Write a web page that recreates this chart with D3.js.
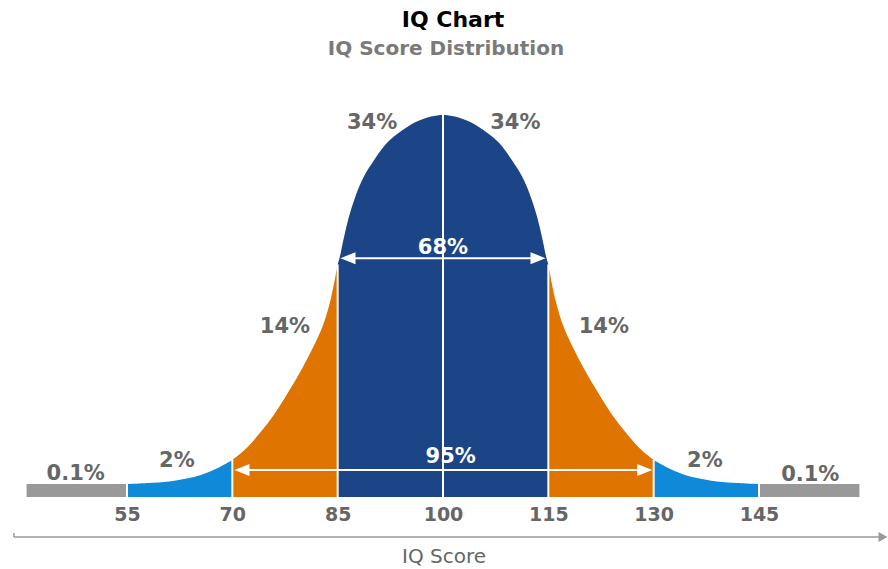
<!DOCTYPE html>
<html>
<head>
<meta charset="utf-8">
<script src="https://cdn.jsdelivr.net/npm/d3@7"></script>
<style>
  body { margin: 0; background: #fff; }
  text { font-family: "DejaVu Sans", Verdana, sans-serif; }
</style>
</head>
<body>
<div id="chart"></div>
<script>
// curve: IQ score -> height relative to the peak
const scores = [55, 58, 61, 64, 66, 68, 70, 72, 74, 76, 78, 80, 82, 83, 84, 85,
  85.3, 85.9, 86.6, 87.5, 88.7, 90.2, 92, 94.2, 96.7, 100, 103.3, 105.8, 108, 109.8, 111.3, 112.5, 113.4, 114.1, 114.7,
  115, 116, 117, 118, 120, 122, 124, 126, 128, 130, 132, 134, 136, 139, 142, 145];
const heights = [0, 0.003, 0.007, 0.017, 0.028, 0.044, 0.065, 0.097, 0.14, 0.19, 0.25, 0.315, 0.39, 0.435, 0.5, 0.595,
  0.615, 0.669, 0.724, 0.778, 0.832, 0.878, 0.924, 0.959, 0.986, 1, 0.986, 0.959, 0.924, 0.878, 0.832, 0.778, 0.724, 0.669, 0.615,
  0.595, 0.5, 0.435, 0.39, 0.315, 0.25, 0.19, 0.14, 0.097, 0.065, 0.044, 0.028, 0.017, 0.007, 0.003, 0];

const bands = [55, 70, 85, 115, 130, 145];
const bandColors = ["#0f8ad8", "#e07400", "#1b4586", "#e07400", "#0f8ad8"];
const tailRanges = [[40.7, 55], [145, 159.3]];
const dividers = [70, 85, 100, 115, 130];
const ticks = [55, 70, 85, 100, 115, 130, 145];

const pctText = ["0.1%", "2%", "14%", "34%", "34%", "14%", "2%", "0.1%"];
const pctX = [47.7, 62.1, 77.5, 89.9, 110.3, 122.9, 137.3, 152.3];
const pctY = [0.011, 0.046, 0.409, 0.962, 0.962, 0.409, 0.046, 0.008];

const spanText = ["68%", "95%"];
const spanFrom = [85.4, 70.3];
const spanTo = [114.6, 129.8];
const spanArrowY = [0.612, 0.038];
const spanLabelX = [100, 101.1];
const spanLabelY = [0.622, 0.057];

const width = 888, height = 569;
const barH = 13;

const svg = d3.select("#chart").append("svg")
  .attr("width", width)
  .attr("height", height);

const x = d3.scaleLinear().domain([55, 145]).range([127, 759]);
const y = d3.scaleLinear().domain([0, 1]).range([484, 115]);
const bottom = y(0) + barH;

const points = scores.map((s, i) => ({ s, h: heights[i] }));
const hAt = s => heights[scores.indexOf(s)];

// title
svg.append("text").attr("x", 453).attr("y", 27).attr("text-anchor", "middle")
  .style("font-size", "22px").style("font-weight", "bold").style("fill", "#000")
  .text("IQ Chart");
svg.append("text").attr("x", 446).attr("y", 55).attr("text-anchor", "middle")
  .style("font-size", "20px").style("font-weight", "bold").style("fill", "#7a7a7a")
  .text("IQ Score Distribution");

// gray tails
svg.selectAll(".tail").data(tailRanges).enter().append("rect")
  .attr("class", "tail")
  .attr("x", d => x(d[0]))
  .attr("width", d => x(d[1]) - x(d[0]))
  .attr("y", y(0))
  .attr("height", barH)
  .style("fill", "#999");

// bell curve, drawn band by band
const area = d3.area()
  .x(d => x(d.s))
  .y0(bottom)
  .y1(d => y(d.h))
  .curve(d3.curveCatmullRom.alpha(0.5));

bandColors.forEach((c, i) => {
  const seg = points.filter(p => p.s >= bands[i] && p.s <= bands[i + 1]);
  svg.append("path")
    .datum(seg)
    .attr("d", area)
    .style("fill", c);
});

// white gaps between gray and blue
svg.selectAll(".gap").data([55, 145]).enter().append("line")
  .attr("x1", d => x(d)).attr("x2", d => x(d))
  .attr("y1", y(0) - 1).attr("y2", bottom)
  .style("stroke", "#fff").style("stroke-width", 2);

// white dividers
svg.selectAll(".divider").data(dividers).enter().append("line")
  .attr("x1", d => x(d)).attr("x2", d => x(d))
  .attr("y1", d => y(hAt(d)))
  .attr("y2", bottom)
  .style("stroke", "#fff").style("stroke-width", 2);

// span arrows
spanText.forEach((t, i) => {
  const ay = y(spanArrowY[i]);
  const x0 = x(spanFrom[i]), x1 = x(spanTo[i]);
  svg.append("text")
    .attr("x", x(spanLabelX[i])).attr("y", y(spanLabelY[i]))
    .attr("text-anchor", "middle")
    .style("font-size", "21px").style("font-weight", "bold").style("fill", "#fff")
    .text(t);
  svg.append("line")
    .attr("x1", x0 + 10).attr("x2", x1 - 10)
    .attr("y1", ay).attr("y2", ay)
    .style("stroke", "#fff").style("stroke-width", 2);
  svg.append("path")
    .attr("d", `M${x0},${ay}L${x0 + 15},${ay - 6}L${x0 + 15},${ay + 6}Z`)
    .style("fill", "#fff");
  svg.append("path")
    .attr("d", `M${x1},${ay}L${x1 - 15},${ay - 6}L${x1 - 15},${ay + 6}Z`)
    .style("fill", "#fff");
});

// percentage labels
svg.selectAll(".pct").data(pctText).enter().append("text")
  .attr("class", "pct")
  .attr("x", (d, i) => x(pctX[i]))
  .attr("y", (d, i) => y(pctY[i]))
  .attr("text-anchor", "middle")
  .style("font-size", "21px").style("font-weight", "bold").style("fill", "#666")
  .text(d => d);

// axis
const axis = svg.append("g")
  .attr("transform", `translate(0,${bottom})`)
  .call(d3.axisBottom(x).tickValues(ticks).tickSize(0).tickPadding(11));
axis.select(".domain").remove();
axis.selectAll("text")
  .style("font-family", "'DejaVu Sans', Verdana, sans-serif")
  .style("font-size", "19px").style("font-weight", "bold").style("fill", "#666");

const axisY = 537;
svg.append("line")
  .attr("x1", x(38.9)).attr("x2", x(162.6))
  .attr("y1", axisY).attr("y2", axisY)
  .style("stroke", "#999").style("stroke-width", 1.5);
svg.append("line")
  .attr("x1", x(38.9)).attr("x2", x(38.9))
  .attr("y1", axisY - 4).attr("y2", axisY)
  .style("stroke", "#999").style("stroke-width", 1.5);
svg.append("path")
  .attr("d", `M${x(163.3)},${axisY}L${x(163.3) - 9},${axisY - 5}L${x(163.3) - 9},${axisY + 5}Z`)
  .style("fill", "#999");

svg.append("text").attr("x", 444).attr("y", 563).attr("text-anchor", "middle")
  .style("font-size", "20px").style("fill", "#666")
  .text("IQ Score");
</script>
</body>
</html>
